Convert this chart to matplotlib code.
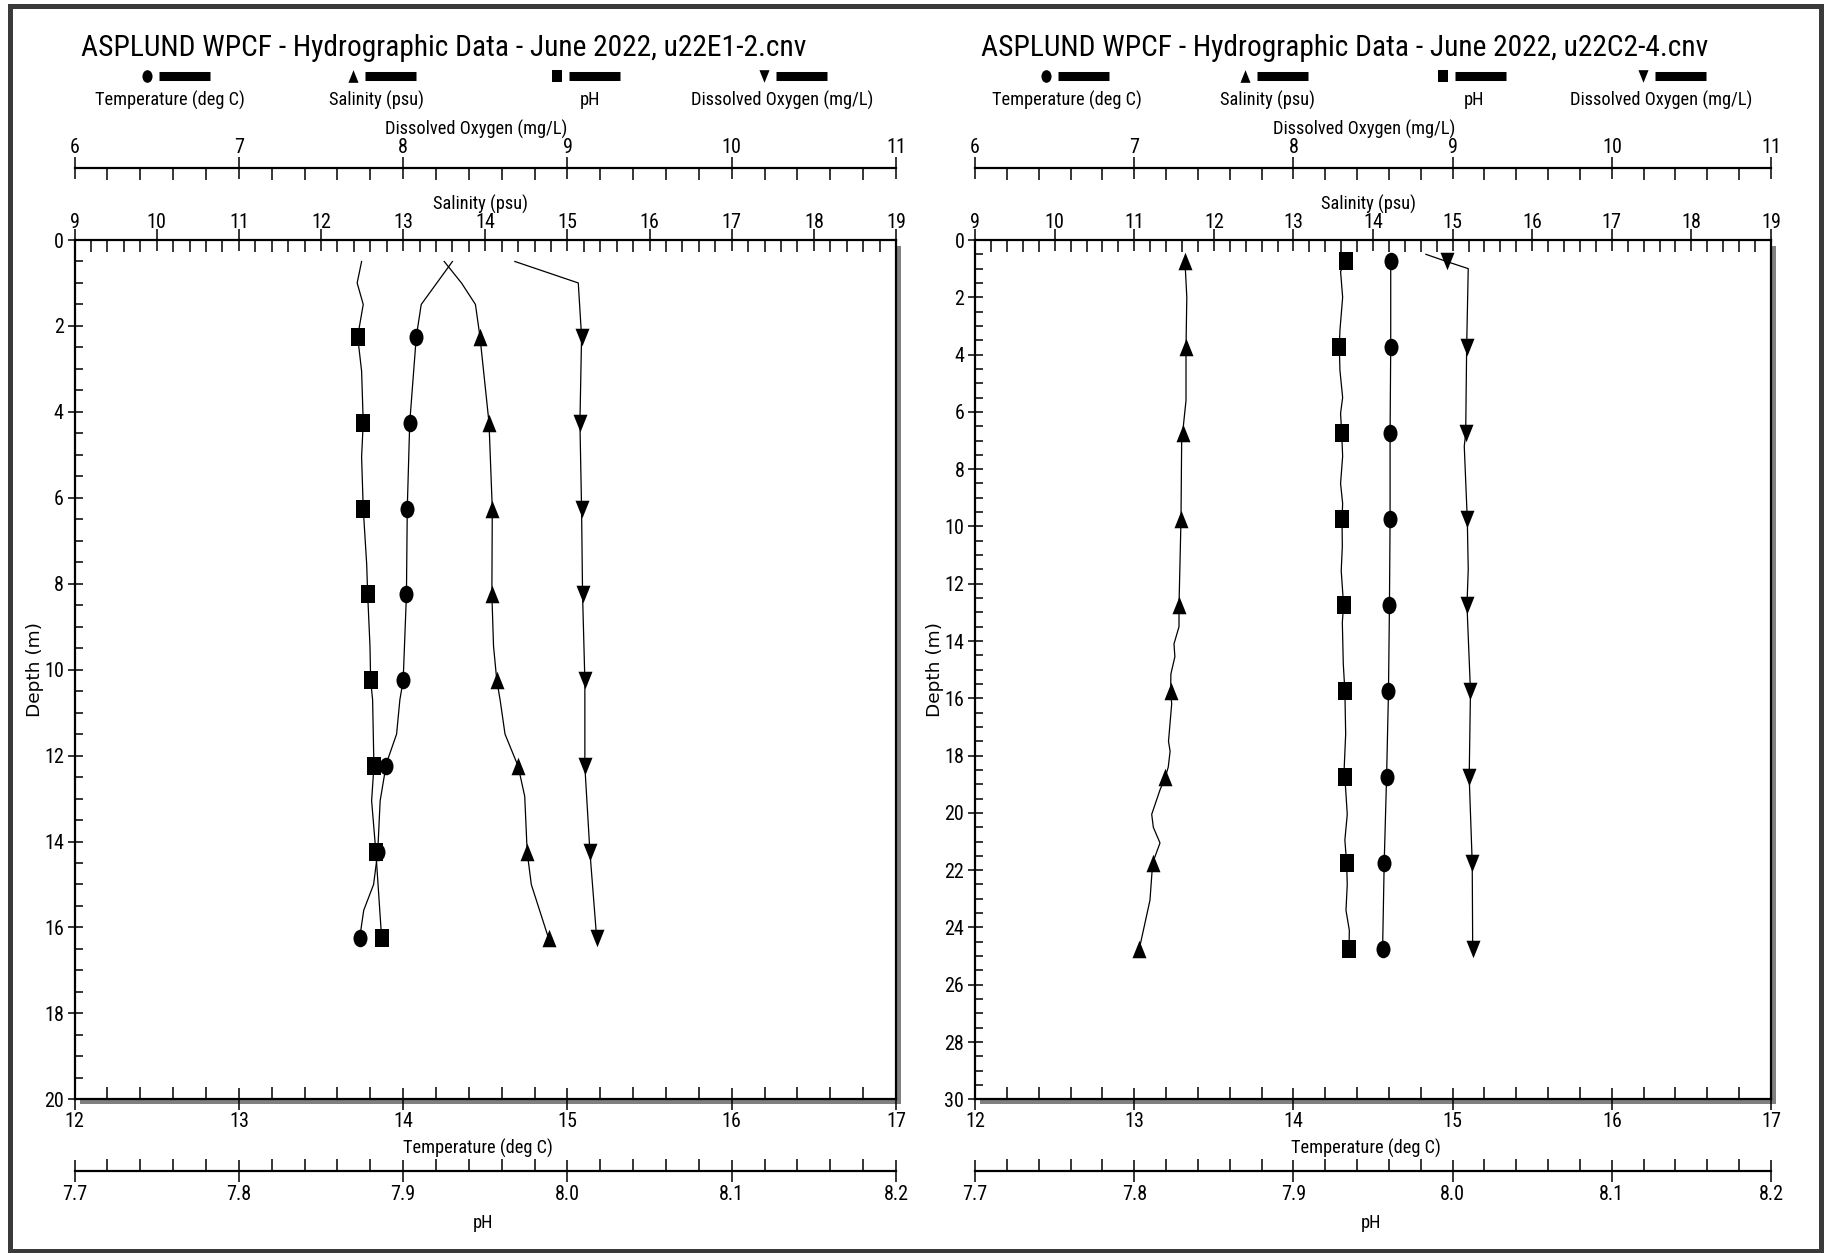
import numpy as np
import matplotlib
matplotlib.use('Agg')
import matplotlib.pyplot as plt
from matplotlib.path import Path
from matplotlib.patches import Rectangle
from matplotlib.lines import Line2D
from matplotlib.ticker import MultipleLocator, FormatStrFormatter
from matplotlib import font_manager

W, H = 1827, 1253

# narrow sans like the original plotting program; first one installed wins
wanted = ['Nimbus Sans Narrow', 'Liberation Sans Narrow', 'Arial Narrow', 'Roboto Condensed',
          'Archivo Narrow', 'Liberation Sans']
have = {f.name for f in font_manager.fontManager.ttflist}
NARROW = [f for f in wanted if f in have] + ['DejaVu Sans']
plt.rcParams['font.family'] = NARROW

# ---- station u22E1-2 (left panel) ----
e_title = 'ASPLUND WPCF - Hydrographic Data - June 2022, u22E1-2.cnv'
e_marks = [2.25, 4.25, 6.25, 8.25, 10.25, 12.25, 14.25, 16.25]
e_temp_depth = [0.5, 1.5, 2.25, 4.25, 6.25, 8.25, 10.25, 10.7, 11.5, 12.05, 12.25, 13.05, 14.25, 15.0, 15.6, 16.25]
e_temp = [14.30, 14.11, 14.08, 14.04, 14.025, 14.02, 14.00, 13.98, 13.96, 13.91, 13.895, 13.86, 13.845, 13.82, 13.76, 13.735]
e_sal_depth = [0.5, 1.0, 1.5, 2.25, 4.25, 6.25, 8.25, 9.45, 10.25, 10.7, 11.5, 12.25, 12.95, 14.25, 15.0, 16.25]
e_sal = [13.50, 13.71, 13.88, 13.935, 14.045, 14.085, 14.08, 14.10, 14.14, 14.18, 14.24, 14.40, 14.48, 14.51, 14.56, 14.77]
e_ph_depth = [0.5, 1.0, 1.5, 2.25, 3.05, 4.25, 5.05, 6.25, 7.55, 8.25, 9.45, 10.25, 10.7, 12.25, 13.05, 14.25, 16.25]
e_ph = [7.8747, 7.8720, 7.8757, 7.8723, 7.8747, 7.8757, 7.8747, 7.8757, 7.8778, 7.8784, 7.8798, 7.8802, 7.8814,
        7.8822, 7.8808, 7.8834, 7.8869]
e_do_depth = [0.5, 1.0, 2.25, 4.25, 6.25, 8.25, 10.25, 12.25, 14.25, 16.25]
e_do = [8.68, 9.066, 9.086, 9.076, 9.086, 9.092, 9.106, 9.106, 9.137, 9.178]

# ---- station u22C2-4 (right panel) ----
c_title = 'ASPLUND WPCF - Hydrographic Data - June 2022, u22C2-4.cnv'
c_marks = [0.75, 3.75, 6.75, 9.75, 12.75, 15.75, 18.75, 21.75, 24.75]
c_temp_depth = [0.75, 3.75, 6.75, 9.75, 12.75, 15.75, 18.75, 21.75, 24.75]
c_temp = [14.611, 14.611, 14.607, 14.607, 14.603, 14.597, 14.585, 14.570, 14.560]
c_sal_depth = [0.75, 2.0, 3.75, 5.6, 6.4, 6.75, 7.1, 9.75, 12.75, 13.5, 14.1, 14.55, 15.15, 15.75, 16.2, 17.5,
               17.85, 18.4, 18.75, 19.2, 20.05, 20.5, 21.05, 21.75, 23.05, 24.75]
c_sal = [11.637, 11.66, 11.65, 11.65, 11.62, 11.608, 11.595, 11.587, 11.562, 11.562, 11.499, 11.51, 11.46, 11.457,
         11.47, 11.43, 11.45, 11.427, 11.39, 11.323, 11.219, 11.239, 11.323, 11.231, 11.197, 11.063]
c_ph_depth = [0.75, 1.1, 2.0, 3.15, 3.75, 4.55, 5.5, 6.05, 6.75, 7.55, 8.5, 9.2, 9.75, 10.7, 11.55, 12.75, 13.35,
              14.8, 15.75, 17.25, 18.4, 18.75, 20.05, 20.95, 21.75, 22.5, 23.4, 24.1, 24.75]
c_ph = [7.9328, 7.9296, 7.9309, 7.9292, 7.9288, 7.9292, 7.9309, 7.9296, 7.9303, 7.9309, 7.9296, 7.9309, 7.9305,
        7.9307, 7.9300, 7.9315, 7.9307, 7.9313, 7.9323, 7.9328, 7.9319, 7.9323, 7.9338, 7.9323, 7.9334, 7.9338,
        7.9330, 7.9351, 7.9349]
c_do_depth = [0.5, 0.75, 1.0, 3.75, 6.75, 7.2, 9.75, 11.5, 12.75, 15.75, 18.75, 21.75, 24.75]
c_do = [8.832, 8.962, 9.098, 9.088, 9.082, 9.073, 9.092, 9.098, 9.090, 9.112, 9.104, 9.123, 9.126]

labels = ['Temperature (deg C)', 'Salinity (psu)', 'pH', 'Dissolved Oxygen (mg/L)']

# slightly tall markers, like the original plot program
def shape(pts):
    return Path(pts + [pts[0]], closed=True)

m_circle = Path.unit_circle().transformed(matplotlib.transforms.Affine2D().scale(0.8, 1.0))
m_square = shape([(-0.8, -1), (0.8, -1), (0.8, 1), (-0.8, 1)])
m_up = shape([(-0.8, -1), (0.8, -1), (0, 1)])
m_down = shape([(-0.8, 1), (0.8, 1), (0, -1)])
markers = [m_circle, m_up, m_square, m_down]

fig = plt.figure(figsize=(W / 100, H / 100), dpi=100)

# calibrate the font size on the title width of the original (about 726 px at 20 pt narrow)
probe = fig.text(0, 0, e_title, fontsize=20)
k = 726.0 / probe.get_window_extent(fig.canvas.get_renderer()).width
probe.remove()
k = min(max(k, 0.8), 1.15)
FS_T = 20 * k
FS = 13.6 * k      # tick labels
FS_L = 12.4 * k    # axis and legend labels


def style_x(a, lim, major, minor, side, pad, fmt='%d'):
    a.set_xlim(*lim)
    a.xaxis.set_major_locator(MultipleLocator(major))
    a.xaxis.set_minor_locator(MultipleLocator(minor))
    a.xaxis.set_major_formatter(FormatStrFormatter(fmt))
    if side == 'top':
        a.xaxis.tick_top()
    else:
        a.xaxis.tick_bottom()
    a.tick_params(axis='x', which='major', direction='inout', length=16, width=1.1, labelsize=FS, pad=pad)
    a.tick_params(axis='x', which='minor', direction='in', length=8.3, width=1.1)
    for s in a.spines.values():
        s.set_visible(False)
    a.spines[side].set_visible(True)
    a.spines[side].set_linewidth(1.6)


def panel(left, right, title, depth_max, series, marks):
    top, bottom = 240.0, 1099.3
    wpx, hpx = right - left, bottom - top

    # grey drop shadow behind the plot box
    fig.patches.append(Rectangle(((left + 5) / W, 1 - (bottom + 5) / H), wpx / W, (hpx - 1) / H,
                                 transform=fig.transFigure, facecolor='#808080', edgecolor='none', zorder=-1))

    ax = fig.add_axes([left / W, 1 - bottom / H, wpx / W, hpx / H])
    ax_sal = ax.twiny()
    ax_do = ax.twiny()
    ax_ph = ax.twiny()

    style_x(ax, (12, 17), 1, 0.2, 'bottom', 1)
    style_x(ax_sal, (9, 19), 1, 0.2, 'top', -2.5)
    style_x(ax_do, (6, 11), 1, 0.2, 'top', 0.5)
    style_x(ax_ph, (7.7, 8.2), 0.1, 0.02, 'bottom', 2, fmt='%.1f')
    ax_do.spines['top'].set_position(('outward', 51.5))
    ax_ph.spines['bottom'].set_position(('outward', 51.6))
    for s in ['left', 'right']:
        ax.spines[s].set_visible(True)
        ax.spines[s].set_linewidth(1.6)

    ax.set_ylim(depth_max, 0)
    ax.yaxis.set_major_locator(MultipleLocator(2))
    ax.yaxis.set_minor_locator(MultipleLocator(0.5))
    ax.tick_params(axis='y', which='major', direction='inout', length=10.8, width=1.1, labelsize=FS, pad=2.4)
    ax.tick_params(axis='y', which='minor', direction='in', length=5.5, width=1.1)

    def fx(px):
        return (px - left) / wpx

    def fy(py):
        return (bottom - py) / hpx

    ax.set_xlabel('Temperature (deg C)', fontsize=FS_L, va='center')
    ax.xaxis.set_label_coords(0.5 - 7 / wpx, fy(1148))
    ax_sal.set_xlabel('Salinity (psu)', fontsize=FS_L, va='center')
    ax_sal.xaxis.set_label_coords(0.5 - 5 / wpx, fy(204))
    ax_do.set_xlabel('Dissolved Oxygen (mg/L)', fontsize=FS_L, va='center')
    ax_do.xaxis.set_label_coords(0.5 - 9 / wpx, fy(129))
    ax_ph.set_xlabel('pH', fontsize=FS_L, va='center')
    ax_ph.xaxis.set_label_coords(0.5 - 2 / wpx, fy(1223))
    ax.set_ylabel('Depth (m)', fontsize=13.3, family='DejaVu Sans', va='center')
    ax.yaxis.set_label_coords(fx(left - 40), 0.5)

    targets = [ax, ax_sal, ax_ph, ax_do]
    for (d, v), a, m in zip(series, targets, markers_in_plot):
        d = np.asarray(d)
        idx = [int(np.argmin(np.abs(d - md))) for md in marks]
        a.plot(v, d, color='black', lw=0.9, marker=m, markersize=12.6, markevery=idx,
               markerfacecolor='black', markeredgewidth=0, clip_on=False)

    # title and legend row
    fig.text((left + 6) / W, 1 - 48 / H, title, ha='left', va='center', fontsize=FS_T)
    mark_fr = [0.0887, 0.3389, 0.5875, 0.8393]
    lab_fr = [0.1155, 0.3675, 0.6268, 0.8618]
    for mf, lf, m, lab in zip(mark_fr, lab_fr, markers, labels):
        mx = left + mf * wpx
        fig.add_artist(Line2D([mx / W], [1 - 76 / H], marker=m, markersize=9.1, color='black',
                              markeredgewidth=0, linestyle='none', transform=fig.transFigure))
        fig.add_artist(Line2D([(mx + 12) / W, (mx + 63) / W], [1 - 76 / H] * 2, color='black', lw=6.5,
                              solid_capstyle='butt', transform=fig.transFigure))
        fig.text((left + lf * wpx) / W, 1 - 100 / H, lab, ha='center', va='center', fontsize=FS_L)
    return ax


# plot order: temperature, salinity, pH, oxygen
markers_in_plot = [m_circle, m_up, m_square, m_down]

panel(74.6, 896.0, e_title, 20, [(e_temp_depth, e_temp), (e_sal_depth, e_sal), (e_ph_depth, e_ph),
                                 (e_do_depth, e_do)], e_marks)
panel(975.1, 1771.0, c_title, 30, [(c_temp_depth, c_temp), (c_sal_depth, c_sal), (c_ph_depth, c_ph),
                                   (c_do_depth, c_do)], c_marks)

# dark frame round the whole page
fig.add_artist(Rectangle((9.5 / W, 1 - 1250.5 / H), 1811 / W, 1244.5 / H, fill=False, edgecolor='#3a3a3a',
                         lw=3.6, transform=fig.transFigure))

fig.savefig('out.png', dpi=100)
